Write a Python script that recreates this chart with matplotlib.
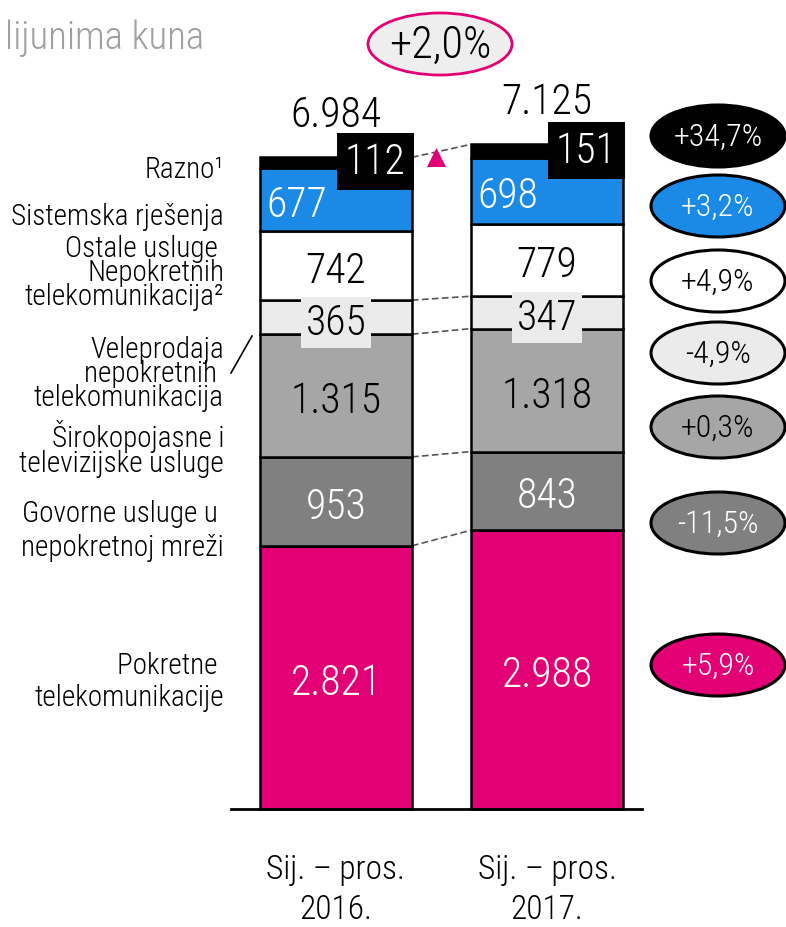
import matplotlib.pyplot as plt
from matplotlib.patches import Ellipse, Polygon

plt.rcParams['font.family'] = ['Roboto Condensed', 'Roboto', 'DejaVu Sans']
plt.rcParams['font.weight'] = 'light'

# podaci (u milijunima kuna)
periods = ['Sij. – pros.\n2016.', 'Sij. – pros.\n2017.']
segments = ['Pokretne telekomunikacije', 'Govorne usluge u nepokretnoj mreži',
            'Širokopojasne i televizijske usluge', 'Veleprodaja nepokretnih telekomunikacija',
            'Ostale usluge Nepokretnih telekomunikacija', 'Sistemska rješenja', 'Razno']
v2016 = [2821, 953, 1315, 365, 742, 677, 112]
v2017 = [2988, 843, 1318, 347, 779, 698, 151]
totals = [6984, 7125]
changes = ['+5,9%', '-11,5%', '+0,3%', '-4,9%', '+4,9%', '+3,2%', '+34,7%']
total_change = '+2,0%'
labels_2016 = ['2.821', '953', '1.315', '365', '742', '677', '112']
labels_2017 = ['2.988', '843', '1.318', '347', '779', '698', '151']
total_labels = ['6.984', '7.125']

colors = ['#E20074', '#808080', '#A6A6A6', '#EBEBEB', '#FFFFFF', '#1A8AE6', '#000000']
txt_colors = ['white', 'white', 'black', 'black', 'black', 'white', 'white']

fig = plt.figure(figsize=(7.86, 9.28), dpi=100)
ax = fig.add_axes([0, 0, 1, 1])
k = 0.0933  # px po jedinici
ax.set_ylim(-118 / k, 810 / k)
ax.set_xlim(-336 / 211, 450 / 211)
ax.axis('off')

w = 0.72
x = [0, 1]
data = [v2016, v2017]
labs = [labels_2016, labels_2017]
fs = 30
dy = -5 / k  # tekst malo niže od sredine segmenta
for i in range(2):
    bottom = 0
    for j, v in enumerate(data[i]):
        ax.bar(x[i], v, w, bottom=bottom, color=colors[j], edgecolor='black', linewidth=1.8, zorder=2)
        cy = bottom + v / 2 + dy
        t = labs[i][j]
        if j == 3:
            ax.text(x[i], cy, t, ha='center', va='center', fontsize=fs, color='black', zorder=4,
                    bbox=dict(boxstyle='square,pad=0.12', fc='#EBEBEB', ec='none'))
        elif j == 5:
            ax.text(x[i] - w / 2 + 0.03, cy, t, ha='left', va='center', fontsize=fs, color='white', zorder=4)
        elif j == 6:
            ax.text(x[i] + w / 2 - 0.03, bottom + v / 2 + 1 / k, t, ha='right', va='center', fontsize=fs,
                    color='white', zorder=5, bbox=dict(boxstyle='square,pad=0.2', fc='black', ec='none'))
        else:
            ax.text(x[i], cy, t, ha='center', va='center', fontsize=fs, color=txt_colors[j], zorder=4)
        bottom += v
    ax.annotate(total_labels[i], (x[i], bottom), xytext=(0, 31), textcoords='offset points',
                ha='center', va='center', fontsize=fs)

# isprekidane spojnice
c1 = 0
c2 = 0
for j in range(7):
    c1 += v2016[j]
    c2 += v2017[j]
    if j in (0, 1, 2, 3, 6):
        ax.plot([x[0] + w / 2, x[1] - w / 2], [c1, c2], ls=(0, (4, 2)), color='#555555', lw=1.2, zorder=1)

ax.plot([-0.5, 1.45], [0, 0], color='black', lw=2, zorder=3)

for i in range(2):
    ax.text(x[i], -855, periods[i], ha='center', va='center', fontsize=24, linespacing=1.33)

# ovalni postoci (koordinate u pikselima)
ov = fig.add_axes([0, 0, 1, 1])
ov.set_xlim(0, 786)
ov.set_ylim(928, 0)
ov.axis('off')
ov.patch.set_alpha(0)

ell_y = [666, 524, 428, 354, 282, 207, 137]
for j in range(7):
    ov.add_patch(Ellipse((718, ell_y[j]), 134, 62, fc=colors[j], ec='black', lw=2.2))
    ov.text(718, ell_y[j], changes[j], ha='center', va='center', fontsize=23, color=txt_colors[j])

ov.add_patch(Ellipse((440, 45), 144, 62, fc='#EEEEEE', ec='#E20074', lw=2))
ov.text(440, 46, total_change, ha='center', va='center', fontsize=32)
ov.add_patch(Polygon([[427, 168], [446, 168], [436.5, 149]], closed=True, fc='#E20074', ec='none', zorder=6))

ov.text(5, 38, 'lijunima kuna', ha='left', va='center', fontsize=28, color='#A0A0A0')

left = [(170, 'Razno¹', 1.0),
        (217, 'Sistemska rješenja', 1.0),
        (273, 'Ostale usluge \nNepokretnih\ntelekomunikacija²', 0.8),
        (374, 'Veleprodaja\nnepokretnih \ntelekomunikacija', 0.83),
        (449, 'Širokopojasne i\ntelevizijske usluge', 0.86),
        (531, 'Govorne usluge u \nnepokretnoj mreži', 1.3),
        (682, 'Pokretne \ntelekomunikacije', 1.2)]
for yy, t, ls in left:
    ov.text(224, yy, t, ha='right', va='center', fontsize=21, linespacing=ls)
ov.plot([252, 231], [337, 374], color='black', lw=1.2)

fig.savefig('out.png', dpi=100)
